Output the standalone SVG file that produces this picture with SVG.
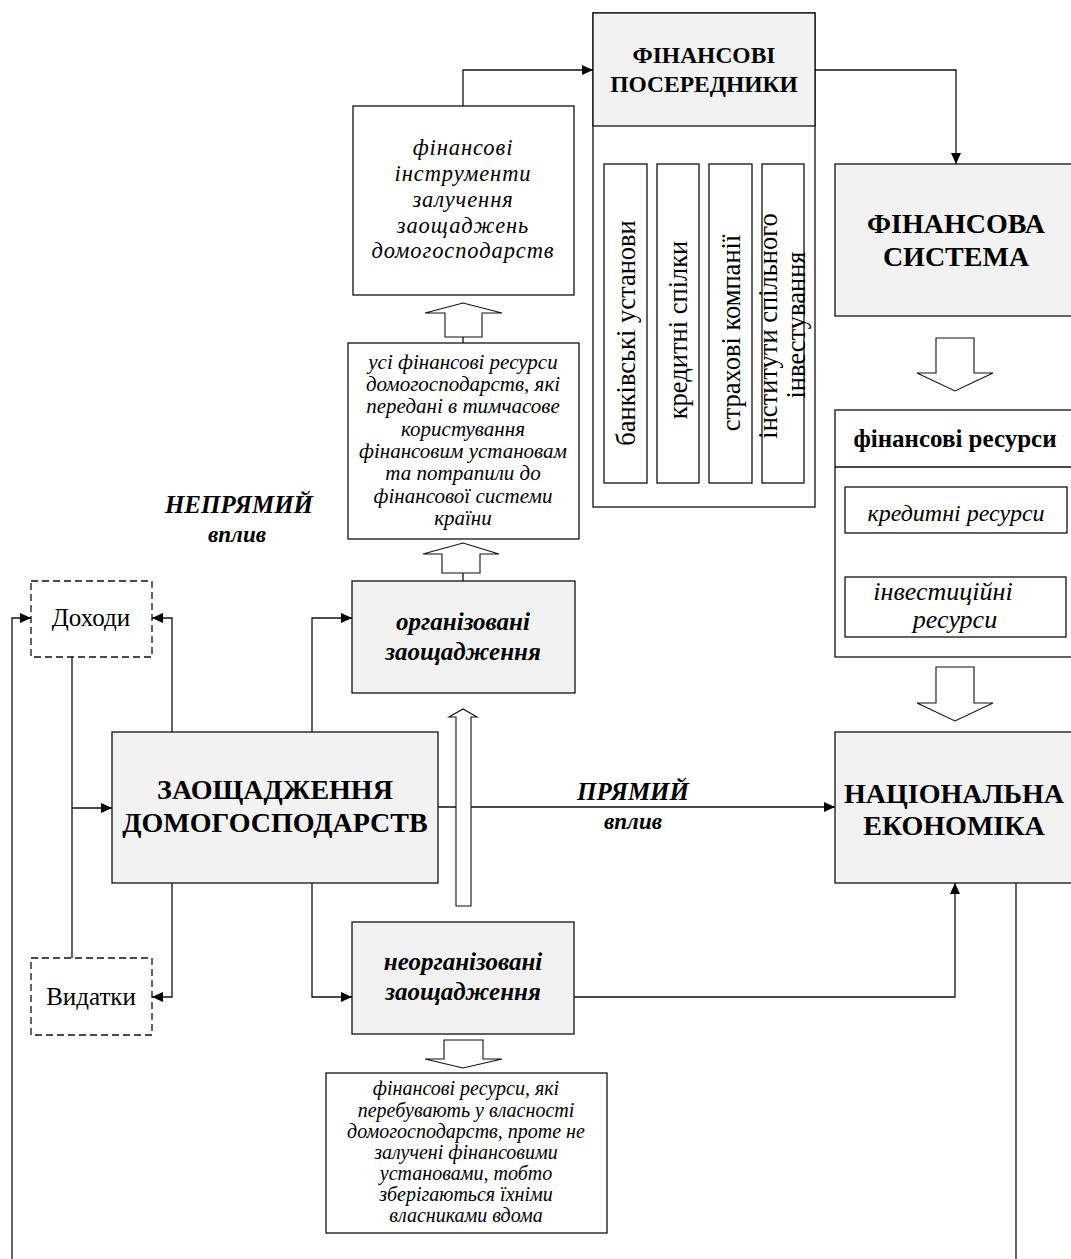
<svg xmlns="http://www.w3.org/2000/svg" width="1071" height="1259" viewBox="0 0 1071 1259">
<defs>
<marker id="ah" markerUnits="userSpaceOnUse" markerWidth="12" markerHeight="10" refX="11" refY="5" orient="auto">
<path d="M0,0 L11,5 L0,10 z" fill="#000"/>
</marker>
<style>
.box{fill:#fff;stroke:#111;stroke-width:1.3}
.grey{fill:#f2f2f2;stroke:#111;stroke-width:1.3}
.dash{fill:#fff;stroke:#111;stroke-width:1.3;stroke-dasharray:7 4}
.ln{fill:none;stroke:#111;stroke-width:1.3}
.arr{fill:none;stroke:#111;stroke-width:1.3;marker-end:url(#ah)}
.hol{fill:#fff;stroke:#111;stroke-width:1.1}
text{font-family:"Liberation Serif","Times New Roman",serif;fill:#000;text-anchor:middle}
.b{font-weight:bold}
.i{font-style:italic}
.fi{font-style:italic;font-size:22.5px;letter-spacing:0.9px}
</style>
</defs>
<rect width="1071" height="1259" fill="#fff"/>

<g id="connectors">
<polyline class="arr" points="463,106 463,70 593,70"/>
<polyline class="arr" points="815,70 956,70 956,164"/>
<line class="arr" x1="625.5" y1="126" x2="625.5" y2="164"/>
<line class="arr" x1="678" y1="126" x2="678" y2="164"/>
<line class="arr" x1="730.5" y1="126" x2="730.5" y2="164"/>
<line class="arr" x1="783" y1="126" x2="783" y2="164"/>
<polyline class="ln" points="72,657 72,958"/>
<line class="arr" x1="72" y1="808" x2="112" y2="808"/>
<polyline class="arr" points="12,1259 12,618 31,618"/>
<polyline class="arr" points="172,732 172,618 152,618"/>
<polyline class="arr" points="172,883 172,997 152,997"/>
<polyline class="arr" points="312,732 312,618 352,618"/>
<polyline class="arr" points="312,883 312,997 352,997"/>
<line class="arr" x1="438" y1="807" x2="835" y2="807"/>
<polyline class="arr" points="574,997 955,997 955,883"/>
<line class="ln" x1="1016" y1="883" x2="1016" y2="1259"/>
<line class="ln" x1="463" y1="337" x2="463" y2="343"/>
<line class="ln" x1="463" y1="573" x2="463" y2="581"/>
<polygon class="hol" points="445,337 445,313 425,313 463,303 502,313 482,313 482,337"/>
<polygon class="hol" points="442,573 442,554 423,554 463,543 499,554 480,554 480,573"/>
<polygon class="hol" points="456,906 456,717 449,717 463,709 477,717 471,717 471,906"/>
<polygon class="hol" points="936,338 974,338 974,373 993,373 955,391 917,373 936,373"/>
<polygon class="hol" points="936,667 974,667 974,703 993,703 955,721 917,703 936,703"/>
<polygon class="hol" points="444,1040 483,1040 483,1059 502,1059 463,1068 425,1059 444,1059"/>
</g>

<g id="label-priamyi">
<text class="b i" x="633" y="800" font-size="25">ПРЯМИЙ</text>
<text class="b i" x="633" y="829" font-size="23">вплив</text>
</g>
<g id="label-nepriamyi">
<text class="b i" x="239" y="513" font-size="25">НЕПРЯМИЙ</text>
<text class="b i" x="237" y="542" font-size="23">вплив</text>
</g>

<g id="fin-intermediaries">
<rect class="box" x="593" y="13" width="222" height="494"/>
<rect class="grey" x="593" y="13" width="222" height="113"/>
<text class="b" x="704" y="63" font-size="23.5">ФІНАНСОВІ</text>
<text class="b" x="704" y="92" font-size="23.5">ПОСЕРЕДНИКИ</text>
</g>
<g id="banks">
<rect class="box" x="604" y="164" width="43" height="319"/>
<text font-size="26.5" transform="translate(625.5,333) rotate(-90)" x="0" y="9">банківські установи</text>
</g>
<g id="credit-unions">
<rect class="box" x="657" y="164" width="42" height="319"/>
<text font-size="26.5" transform="translate(678,330) rotate(-90)" x="0" y="9">кредитні спілки</text>
</g>
<g id="insurance">
<rect class="box" x="709" y="164" width="43" height="319"/>
<text font-size="26.5" transform="translate(730.5,333) rotate(-90)" x="0" y="9">страхові компанії</text>
</g>
<g id="joint-investment">
<rect class="box" x="762" y="164" width="42" height="319"/>
<text font-size="26.5" transform="translate(783,326) rotate(-90)" x="0" y="-6">інститути спільного</text>
<text font-size="26.5" transform="translate(783,325) rotate(-90)" x="0" y="22">інвестування</text>
</g>

<g id="fin-instruments">
<rect class="box" x="353" y="106" width="221" height="189"/>
<text class="fi" x="463" y="155">фінансові</text>
<text class="fi" x="463" y="181">інструменти</text>
<text class="fi" x="463" y="207">залучення</text>
<text class="fi" x="463" y="233">заощаджень</text>
<text class="fi" x="463" y="258">домогосподарств</text>
</g>

<g id="all-resources">
<rect class="box" x="348" y="343" width="231" height="196"/>
<text class="i" x="463" y="369" font-size="21">усі фінансові ресурси</text>
<text class="i" x="463" y="391" font-size="21">домогосподарств, які</text>
<text class="i" x="463" y="413" font-size="21">передані в тимчасове</text>
<text class="i" x="463" y="436" font-size="21">користування</text>
<text class="i" x="463" y="458" font-size="21">фінансовим установам</text>
<text class="i" x="463" y="480" font-size="21">та потрапили до</text>
<text class="i" x="463" y="503" font-size="21">фінансової системи</text>
<text class="i" x="463" y="525" font-size="21">країни</text>
</g>

<g id="fin-system">
<rect class="grey" x="835" y="164" width="245" height="152"/>
<text class="b" x="956" y="233" font-size="28">ФІНАНСОВА</text>
<text class="b" x="956" y="266" font-size="28">СИСТЕМА</text>
</g>

<g id="fin-resources">
<rect class="box" x="835" y="410" width="245" height="247"/>
<line class="ln" x1="835" y1="467" x2="1080" y2="467"/>
<text class="b" x="955" y="447" font-size="25">фінансові ресурси</text>
</g>
<g id="credit-resources">
<rect class="box" x="845" y="487" width="222" height="46"/>
<text class="i" x="956" y="521" font-size="24">кредитні ресурси</text>
</g>
<g id="invest-resources">
<rect class="box" x="845" y="577" width="221" height="60"/>
<text class="i" x="943" y="600" font-size="26">інвестиційні</text>
<text class="i" x="955" y="628" font-size="26">ресурси</text>
</g>

<g id="national-economy">
<rect class="grey" x="835" y="732" width="245" height="151"/>
<text class="b" x="954" y="803" font-size="28">НАЦІОНАЛЬНА</text>
<text class="b" x="954" y="835" font-size="28">ЕКОНОМІКА</text>
</g>

<g id="household-savings">
<rect class="grey" x="112" y="732" width="326" height="151"/>
<text class="b" x="275" y="799" font-size="28">ЗАОЩАДЖЕННЯ</text>
<text class="b" x="275" y="832" font-size="28">ДОМОГОСПОДАРСТВ</text>
</g>

<g id="income">
<rect class="dash" x="31" y="581" width="121" height="76"/>
<text x="91" y="626" font-size="25">Доходи</text>
</g>
<g id="expenses">
<rect class="dash" x="31" y="958" width="121" height="77"/>
<text x="91" y="1005" font-size="25">Видатки</text>
</g>

<g id="organized">
<rect class="grey" x="352" y="581" width="223" height="112"/>
<text class="b i" x="463" y="630" font-size="25">організовані</text>
<text class="b i" x="463" y="660" font-size="25">заощадження</text>
</g>
<g id="unorganized">
<rect class="grey" x="352" y="922" width="222" height="112"/>
<text class="b i" x="463" y="970" font-size="25">неорганізовані</text>
<text class="b i" x="463" y="1000" font-size="25">заощадження</text>
</g>

<g id="unorganized-desc">
<rect class="box" x="326" y="1073" width="281" height="160"/>
<text class="i" x="466" y="1095" font-size="20">фінансові ресурси, які</text>
<text class="i" x="466" y="1117" font-size="20">перебувають у власності</text>
<text class="i" x="466" y="1138" font-size="20">домогосподарств, проте не</text>
<text class="i" x="466" y="1159" font-size="20">залучені фінансовими</text>
<text class="i" x="466" y="1180" font-size="20">установами, тобто</text>
<text class="i" x="466" y="1201" font-size="20">зберігаються їхніми</text>
<text class="i" x="466" y="1222" font-size="20">власниками вдома</text>
</g>
</svg>
